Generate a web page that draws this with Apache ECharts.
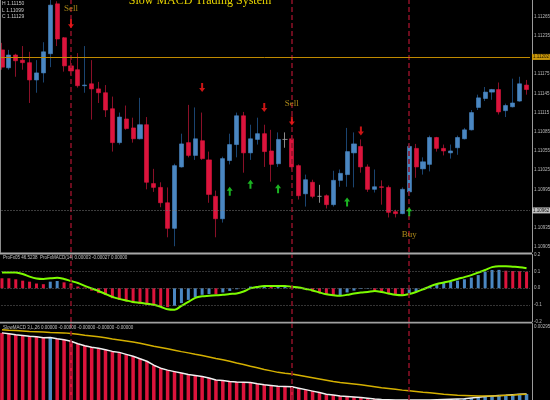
<!DOCTYPE html>
<html>
<head>
<meta charset="utf-8">
<title>Slow MACD Trading System</title>
<script src="https://cdn.jsdelivr.net/npm/echarts@6/dist/echarts.min.js"></script>
<style>
  html, body { margin: 0; padding: 0; background: #000; }
  #chart { width: 550px; height: 400px; }
</style>
</head>
<body>
<div id="chart"></div>
<script>
// candles: [open, close, low, high]
const CANDLES = [
  [1.11213, 1.11186, 1.11182, 1.11224],
  [1.11185, 1.11205, 1.11182, 1.11213],
  [1.11205, 1.11196, 1.11171, 1.11207],
  [1.11197, 1.11193, 1.11182, 1.11219],
  [1.11193, 1.11166, 1.11130, 1.11210],
  [1.11166, 1.11177, 1.11146, 1.11197],
  [1.11177, 1.11210, 1.11162, 1.11225],
  [1.11207, 1.11283, 1.11186, 1.11291],
  [1.11285, 1.11230, 1.11219, 1.11289],
  [1.11232, 1.11188, 1.11179, 1.11233],
  [1.11188, 1.11180, 1.11174, 1.11197],
  [1.11182, 1.11157, 1.11154, 1.11208],
  [1.11157, 1.11158, 1.11146, 1.11219],
  [1.11160, 1.11152, 1.11104, 1.11197],
  [1.11152, 1.11146, 1.11130, 1.11163],
  [1.11146, 1.11119, 1.11108, 1.11158],
  [1.11121, 1.11068, 1.11054, 1.11140],
  [1.11068, 1.11108, 1.11065, 1.11115],
  [1.11105, 1.11090, 1.11088, 1.11126],
  [1.11091, 1.11074, 1.11068, 1.11107],
  [1.11074, 1.11096, 1.11073, 1.11138],
  [1.11096, 1.11006, 1.10995, 1.11108],
  [1.11004, 1.10998, 1.10991, 1.11027],
  [1.10998, 1.10974, 1.10967, 1.11006],
  [1.10974, 1.10934, 1.10920, 1.10998],
  [1.10934, 1.11032, 1.10906, 1.11035],
  [1.11030, 1.11066, 1.11029, 1.11082],
  [1.11068, 1.11048, 1.11045, 1.11127],
  [1.11048, 1.11074, 1.11041, 1.11123],
  [1.11071, 1.11043, 1.11041, 1.11115],
  [1.11041, 1.10987, 1.10974, 1.11054],
  [1.10984, 1.10949, 1.10920, 1.10993],
  [1.10949, 1.11043, 1.10943, 1.11046],
  [1.11040, 1.11065, 1.11034, 1.11082],
  [1.11065, 1.11110, 1.11045, 1.11115],
  [1.11110, 1.11052, 1.11021, 1.11116],
  [1.11052, 1.11074, 1.11041, 1.11096],
  [1.11073, 1.11082, 1.11065, 1.11107],
  [1.11082, 1.11054, 1.11030, 1.11096],
  [1.11055, 1.11034, 1.11007, 1.11088],
  [1.11035, 1.11073, 1.11030, 1.11084],
  [1.11073, 1.11073, 1.11060, 1.11084],
  [1.11074, 1.11030, 1.11026, 1.11080],
  [1.11032, 1.10985, 1.10979, 1.11034],
  [1.10988, 1.11010, 1.10968, 1.11018],
  [1.11006, 1.10984, 1.10981, 1.11010],
  [1.10984, 1.10984, 1.10974, 1.11002],
  [1.10985, 1.10971, 1.10965, 1.10987],
  [1.10971, 1.11009, 1.10968, 1.11024],
  [1.11009, 1.11020, 1.10999, 1.11026],
  [1.11018, 1.11054, 1.10999, 1.11091],
  [1.11052, 1.11066, 1.10998, 1.11084],
  [1.11062, 1.11030, 1.11021, 1.11073],
  [1.11030, 1.10995, 1.10991, 1.11034],
  [1.10995, 1.10999, 1.10990, 1.11026],
  [1.10999, 1.10998, 1.10971, 1.11009],
  [1.10998, 1.10959, 1.10951, 1.11001],
  [1.10960, 1.10957, 1.10951, 1.10963],
  [1.10957, 1.10995, 1.10956, 1.10998],
  [1.10991, 1.11062, 1.10985, 1.11066],
  [1.11059, 1.11030, 1.11013, 1.11066],
  [1.11027, 1.11038, 1.11018, 1.11045],
  [1.11034, 1.11076, 1.11023, 1.11079],
  [1.11076, 1.11059, 1.11054, 1.11077],
  [1.11059, 1.11055, 1.11048, 1.11065],
  [1.11052, 1.11055, 1.11043, 1.11065],
  [1.11060, 1.11076, 1.11049, 1.11079],
  [1.11074, 1.11088, 1.11073, 1.11091],
  [1.11088, 1.11115, 1.11087, 1.11119],
  [1.11123, 1.11138, 1.11119, 1.11143],
  [1.11137, 1.11147, 1.11133, 1.11155],
  [1.11147, 1.11151, 1.11135, 1.11152],
  [1.11151, 1.11116, 1.11112, 1.11162],
  [1.11118, 1.11126, 1.11108, 1.11129],
  [1.11124, 1.11130, 1.11123, 1.11168],
  [1.11133, 1.11160, 1.11132, 1.11171],
  [1.11158, 1.11151, 1.11143, 1.11166]
];
const CATEGORIES = CANDLES.map((_, i) => String(i + 1));

const PRICE_TICKS = [1.10905, 1.10935, 1.10995, 1.11025, 1.11055, 1.11085, 1.11115,
  1.11145, 1.11175, 1.11235, 1.11265];
const ORANGE_LEVEL = 1.11202;
const BID_LEVEL = 1.10962;

// signals
const SIGNAL_BARS = [10, 42, 59];
const SELL_ARROWS = [[10, 1.11254], [29, 1.11154], [38, 1.11123], [42, 1.11102], [52, 1.11086]];
const BUY_ARROWS = [[33, 1.10992], [36, 1.11003], [40, 1.10996], [50, 1.10975], [59, 1.10960]];
const SIGNAL_TEXT = [[10, 1.11278, 'Sell'], [42, 1.11129, 'Sell'], [59, 1.10924, 'Buy']];

// oscillator panel
const MACD_HIST = [0.059, 0.059, 0.053, 0.045, 0.039, 0.028, 0.024, 0.039, 0.043, 0.035,
  0.029, 0.010, 0.004, -0.014, -0.029, -0.039, -0.059, -0.069, -0.078, -0.088,
  -0.092, -0.098, -0.104, -0.108, -0.112, -0.104, -0.088, -0.069, -0.053, -0.039,
  -0.034, -0.035, -0.025, -0.016, -0.006, -0.002, 0.010, 0.013, 0.014, 0.012,
  0.013, 0.014, 0.013, -0.002, -0.006, -0.019, -0.029, -0.039, -0.043, -0.042,
  -0.025, -0.014, -0.004, -0.003, -0.014, -0.019, -0.029, -0.035, -0.039, -0.029,
  -0.019, 0.000, 0.014, 0.025, 0.034, 0.039, 0.045, 0.053, 0.063, 0.078,
  0.098, 0.108, 0.109, 0.104, 0.102, 0.101, 0.098];
const MACD_SIGNAL = [0.094, 0.094, 0.093, 0.084, 0.069, 0.058, 0.055, 0.059, 0.062, 0.055,
  0.043, 0.031, 0.014, -0.001, -0.016, -0.034, -0.051, -0.063, -0.072, -0.081,
  -0.086, -0.092, -0.098, -0.110, -0.125, -0.128, -0.104, -0.081, -0.057, -0.048,
  -0.045, -0.042, -0.039, -0.034, -0.031, -0.019, -0.001, 0.008, 0.014, 0.014,
  0.014, 0.014, 0.009, 0.005, -0.004, -0.013, -0.025, -0.036, -0.042, -0.045,
  -0.039, -0.031, -0.025, -0.022, -0.016, -0.022, -0.031, -0.039, -0.042, -0.034,
  -0.022, -0.007, 0.011, 0.025, 0.034, 0.043, 0.055, 0.066, 0.078, 0.093,
  0.108, 0.125, 0.131, 0.131, 0.128, 0.125, 0.119];
const OSC_TICKS = [0.2, 0.1, 0, -0.1, -0.2];
const OSC_LEVELS = [0.1, 0, -0.1];

// slow macd panel
const SLOW_HIST = [0.00272, 0.00268, 0.00264, 0.00261, 0.00258, 0.00256, 0.00252, 0.00253, 0.00248, 0.00244,
  0.00238, 0.00228, 0.00220, 0.00214, 0.00210, 0.00204, 0.00197, 0.00193, 0.00185, 0.00177,
  0.00167, 0.00157, 0.00141, 0.00129, 0.00121, 0.00115, 0.00109, 0.00103, 0.00099, 0.00095,
  0.00089, 0.00081, 0.00079, 0.00075, 0.00073, 0.00072, 0.00071, 0.00066, 0.00062, 0.00059,
  0.00056, 0.00055, 0.00054, 0.00048, 0.00042, 0.00036, 0.00030, 0.00023, 0.00020, 0.00016,
  0.00014, 0.00012, 0.00010, 0.00007, 0.00004, 0.00002, 0.00001, 0, 0, 0,
  0, 0, 0, 0.00001, 0.00002, 0.00003, 0.00004, 0.00005, 0.00008, 0.00011,
  0.00014, 0.00016, 0.00018, 0.00019, 0.00021, 0.00023, 0.00024];
const SLOW_SIGNAL = [0.00285, 0.00283, 0.00282, 0.00280, 0.00278, 0.00277, 0.00276, 0.00274, 0.00273, 0.00272,
  0.00269, 0.00266, 0.00262, 0.00259, 0.00256, 0.00252, 0.00247, 0.00243, 0.00239, 0.00235,
  0.00230, 0.00224, 0.00218, 0.00213, 0.00208, 0.00202, 0.00196, 0.00191, 0.00185, 0.00180,
  0.00174, 0.00168, 0.00163, 0.00157, 0.00150, 0.00144, 0.00137, 0.00131, 0.00124, 0.00118,
  0.00112, 0.00108, 0.00105, 0.00100, 0.00095, 0.00090, 0.00085, 0.00080, 0.00075, 0.00071,
  0.00068, 0.00065, 0.00062, 0.00058, 0.00054, 0.00050, 0.00047, 0.00044, 0.00040, 0.00037,
  0.00034, 0.00031, 0.00029, 0.00026, 0.00023, 0.00021, 0.00019, 0.00018, 0.00017, 0.00016,
  0.00016, 0.00016, 0.00017, 0.00019, 0.00020, 0.00022, 0.00023];
const SLOW_TICKS = [0.00295];

const RED = '#dc143c';
const BLUE = '#4a87c2';
const LABEL_COLOR = '#b8b8b8';
const DASH = { color: '#8e1027', type: [5, 3], width: 1.5 };

const bodies = CANDLES.map(([o, c]) => [o, c, Math.min(o, c), Math.max(o, c)]);

function histColor(arr) {
  return p => (p.dataIndex > 0 && arr[p.dataIndex] > arr[p.dataIndex - 1]) ? BLUE : RED;
}

function verticalLines() {
  return SIGNAL_BARS.map(i => ({ xAxis: i, lineStyle: DASH }));
}

function priceAxis(gridIndex, extra) {
  return Object.assign({
    type: 'value',
    gridIndex: gridIndex,
    position: 'right',
    offset: 2,
    scale: true,
    splitLine: { show: false },
    axisTick: { show: false },
    axisLine: { show: true, lineStyle: { color: '#9a9a9a', width: 1 } },
    axisLabel: { color: LABEL_COLOR, fontSize: 4.5, margin: 2, fontFamily: 'Liberation Sans' }
  }, extra);
}

const chart = echarts.init(document.getElementById('chart'));

chart.setOption({
  backgroundColor: '#000000',
  animation: false,
  grid: [
    { left: -1.5, width: 531.5, top: 0, height: 252, containLabel: false, outerBoundsMode: 'none' },
    { left: -1.5, width: 531.5, top: 254.5, height: 67.5, containLabel: false, outerBoundsMode: 'none' },
    { left: -1.5, width: 531.5, top: 323.5, height: 76.5, containLabel: false, outerBoundsMode: 'none' }
  ],
  xAxis: [0, 1, 2].map(g => ({
    type: 'category', gridIndex: g, data: CATEGORIES, show: false, boundaryGap: true
  })),
  yAxis: [
    priceAxis(0, {
      min: 1.10897, max: 1.11291,
      axisLabel: {
        color: LABEL_COLOR, fontSize: 4.5, margin: 2, fontFamily: 'Liberation Sans',
        customValues: PRICE_TICKS, formatter: v => v.toFixed(5)
      }
    }),
    priceAxis(1, {
      min: -0.2, max: 0.2,
      axisLabel: {
        color: LABEL_COLOR, fontSize: 4.5, margin: 2, fontFamily: 'Liberation Sans',
        customValues: OSC_TICKS, formatter: v => v.toFixed(1)
      }
    }),
    priceAxis(2, {
      min: 0, max: 0.0031,
      axisLabel: {
        color: LABEL_COLOR, fontSize: 4.5, margin: 2, fontFamily: 'Liberation Sans',
        customValues: SLOW_TICKS, formatter: v => v.toFixed(5)
      }
    })
  ],
  series: [
    {
      name: 'wicks',
      type: 'candlestick',
      xAxisIndex: 0, yAxisIndex: 0,
      data: CANDLES,
      barWidth: 0.5,
      itemStyle: {
        color: '#1a4470', color0: '#8a1028',
        borderColor: '#1a4470', borderColor0: '#8a1028',
        borderColorDoji: '#8a8a8a', borderWidth: 1
      },
      markLine: {
        silent: true, symbol: ['none', 'none'], label: { show: false },
        data: verticalLines()
      }
    },
    {
      name: 'bodies',
      type: 'candlestick',
      xAxisIndex: 0, yAxisIndex: 0,
      data: bodies,
      barWidth: 4.6,
      itemStyle: {
        color: BLUE, color0: RED,
        borderColor: BLUE, borderColor0: RED,
        borderColorDoji: '#9a9a9a', borderWidth: 0.6
      }
    },
    {
      name: 'sell arrows',
      type: 'scatter',
      xAxisIndex: 0, yAxisIndex: 0,
      data: SELL_ARROWS,
      symbol: 'path://M2,0L4,0L4,5L6,5L3,9L0,5L2,5Z',
      symbolSize: [6, 9],
      itemStyle: { color: '#ff1a1a' },
      z: 5,
      markLine: {
        silent: true, symbol: ['none', 'none'], precision: 5,
        data: [
          {
            yAxis: ORANGE_LEVEL,
            lineStyle: { color: '#c08a00', type: 'solid', width: 1 },
            label: {
              show: true, position: 'end', distance: 2, formatter: p => Number(p.value).toFixed(5),
              fontSize: 4.5, color: '#1a1200', backgroundColor: '#c8960a', padding: [1, 1, 0, 1]
            }
          },
          {
            yAxis: BID_LEVEL,
            lineStyle: { color: '#7a7a7a', type: [1, 2], width: 1 },
            label: {
              show: true, position: 'end', distance: 2, formatter: p => Number(p.value).toFixed(5),
              fontSize: 4.5, color: '#111111', backgroundColor: '#c0c0c0', padding: [1, 1, 0, 1]
            }
          }
        ]
      }
    },
    {
      name: 'buy arrows',
      type: 'scatter',
      xAxisIndex: 0, yAxisIndex: 0,
      data: BUY_ARROWS,
      symbol: 'path://M3,0L6,4L4,4L4,9L2,9L2,4L0,4Z',
      symbolSize: [6, 9],
      itemStyle: { color: '#22e02a' },
      z: 5
    },
    {
      name: 'signal text',
      type: 'scatter',
      xAxisIndex: 0, yAxisIndex: 0,
      data: SIGNAL_TEXT,
      symbolSize: 0.1,
      itemStyle: { color: 'transparent' },
      label: {
        show: true, position: 'inside', formatter: p => p.value[2],
        color: '#d2a81e', fontSize: 9, fontFamily: 'Liberation Serif'
      },
      z: 6
    },
    {
      name: 'osc hist',
      type: 'bar',
      xAxisIndex: 1, yAxisIndex: 1,
      data: MACD_HIST,
      barWidth: 3,
      itemStyle: { color: histColor(MACD_HIST) },
      markLine: {
        silent: true, symbol: ['none', 'none'], label: { show: false }, precision: 3,
        data: OSC_LEVELS.map(v => ({ yAxis: v, lineStyle: { color: '#6a6a6a', type: [1, 2], width: 1 } }))
          .concat(verticalLines())
      }
    },
    {
      name: 'osc signal',
      type: 'line',
      xAxisIndex: 1, yAxisIndex: 1,
      data: MACD_SIGNAL,
      smooth: 0.3,
      showSymbol: false,
      lineStyle: { color: '#7cfc00', width: 2 },
      z: 4
    },
    {
      name: 'slow hist',
      type: 'bar',
      xAxisIndex: 2, yAxisIndex: 2,
      data: SLOW_HIST,
      barWidth: 3.5,
      itemStyle: { color: histColor(SLOW_HIST) },
      markLine: {
        silent: true, symbol: ['none', 'none'], label: { show: false },
        data: verticalLines()
      }
    },
    {
      name: 'slow main',
      type: 'line',
      xAxisIndex: 2, yAxisIndex: 2,
      data: SLOW_HIST,
      showSymbol: false,
      lineStyle: { color: '#f0f0f0', width: 1.5 },
      z: 4
    },
    {
      name: 'slow signal',
      type: 'line',
      xAxisIndex: 2, yAxisIndex: 2,
      data: SLOW_SIGNAL,
      showSymbol: false,
      lineStyle: { color: '#d4b000', width: 1.5 },
      z: 4
    }
  ],
  graphic: [
    { type: 'rect', shape: { x: 0, y: 252.5, width: 532, height: 2 }, style: { fill: '#a8a8a8' }, z: 10 },
    { type: 'rect', shape: { x: 0, y: 321.8, width: 532, height: 1.8 }, style: { fill: '#a0a0a0' }, z: 10 },
    { type: 'line', shape: { x1: 0.5, y1: 0, x2: 0.5, y2: 253 }, style: { stroke: '#8c8c8c', lineWidth: 1 }, z: 10 },
    {
      type: 'text', x: 200, y: 7, z: 10,
      style: {
        text: 'Slow MACD Trading System', fill: '#e8d400',
        font: '12px "Liberation Serif"', textAlign: 'center', textVerticalAlign: 'bottom'
      }
    },
    { type: 'text', x: 2, y: 4, z: 10, style: { text: 'H 1.11150', fill: '#c8c8c8', font: '5px "Liberation Sans"', textVerticalAlign: 'middle' } },
    { type: 'text', x: 2, y: 11, z: 10, style: { text: 'L 1.11099', fill: '#c8c8c8', font: '5px "Liberation Sans"', textVerticalAlign: 'middle' } },
    { type: 'text', x: 2, y: 17, z: 10, style: { text: 'C 1.11129', fill: '#c8c8c8', font: '5px "Liberation Sans"', textVerticalAlign: 'middle' } },
    {
      type: 'text', x: 3, y: 257.5, z: 10,
      style: { text: 'ProFx05 46.5238  ProFxMACD(14) 0.00003 -0.00027 0.00000', fill: '#c0c0c0', font: '4.5px "Liberation Sans"', textVerticalAlign: 'middle' }
    },
    {
      type: 'text', x: 3, y: 328, z: 10,
      style: { text: 'SlowMACD 3,L,26 0.00000 -0.00000 -0.00000 -0.00000 -0.00000', fill: '#c0c0c0', font: '4.5px "Liberation Sans"', textVerticalAlign: 'middle' }
    }
  ]
});
</script>
</body>
</html>
